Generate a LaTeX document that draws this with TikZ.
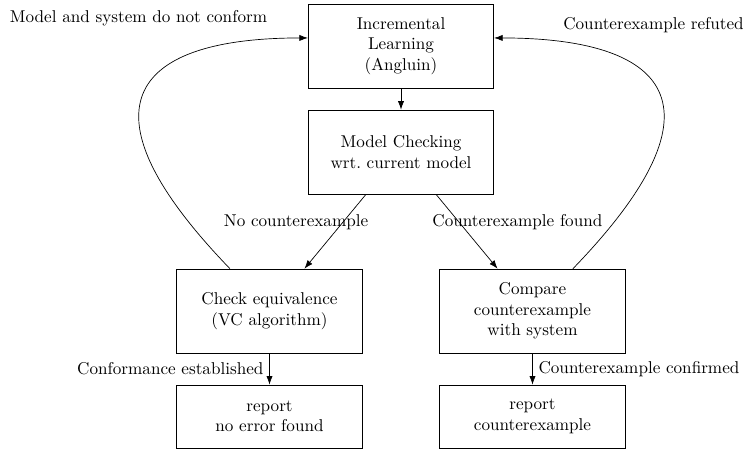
\documentclass[tikz,border=0pt]{standalone}
\usetikzlibrary{arrows.meta}
\begin{document}
\begin{tikzpicture}[x=0.584pt,y=-0.584pt,
  box/.style={draw, rectangle, align=center, minimum width=108.3pt, minimum height=49pt, inner sep=2pt},
  rbox/.style={box, minimum height=36.8pt},
  arr/.style={-{Latex[length=5pt,width=3.6pt]}},
  lbl/.style={inner sep=0pt}]
\useasboundingbox (0,0) rectangle (749,452);
\node[box] (learn) at (401,46) {Incremental\\Learning\\(Angluin)};
\node[box] (mc) at (401,152) {Model Checking\\wrt.\ current model};
\node[box] (ce) at (269.5,311) {Check equivalence\\(VC algorithm)};
\node[box] (cmp) at (532.5,311) {Compare\\counterexample\\with system};
\node[rbox] (rep1) at (269.5,416.5) {report\\no error found};
\node[rbox] (rep2) at (532.5,416.5) {report\\counterexample};

\draw[arr] (learn) -- (mc);
\draw[arr] (mc) -- node[pos=0.38, xshift=-27.2pt] {No counterexample} (ce);
\draw[arr] (mc) -- node[pos=0.38, xshift=33.9pt] {Counterexample found} (cmp);
\draw[arr] (ce) -- node[left] {Conformance established} (rep1);
\draw[arr] (cmp) -- node[right] {Counterexample confirmed} (rep2);

\draw[arr] ([xshift=-23.1pt]ce.north) .. controls (69,102) and (139,38) .. ([yshift=4.7pt]learn.west);
\draw[arr] ([xshift=23.6pt]cmp.north) .. controls (734,102) and (664,38) .. ([yshift=4.7pt]learn.east);

\node (lab1) at (138.5,18) {Model and system do not conform};
\node (lab2) at (653.5,25) {Counterexample refuted};
\end{tikzpicture}
\end{document}
